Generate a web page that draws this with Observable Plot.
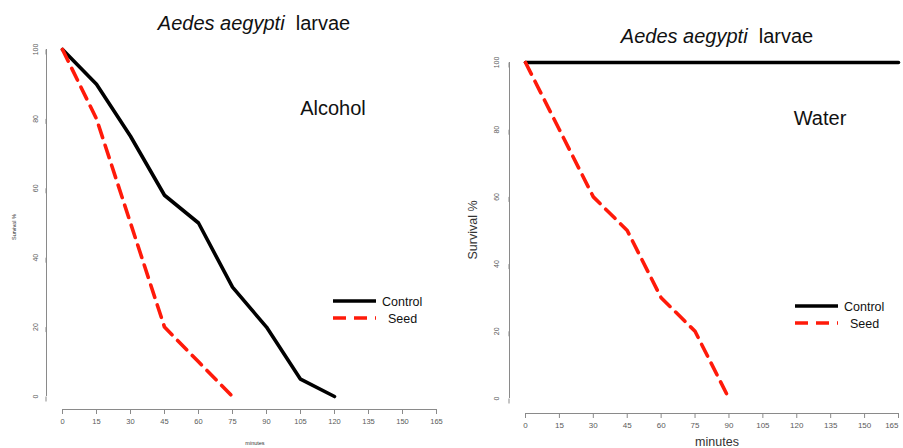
<!DOCTYPE html>
<html>
<head>
<meta charset="utf-8">
<script src="https://cdn.jsdelivr.net/npm/d3@7"></script>
<script src="https://cdn.jsdelivr.net/npm/@observablehq/plot@0.6"></script>
<style>
  html, body { margin: 0; padding: 0; background: #fff; }
  #wrap { position: relative; width: 903px; height: 448px; overflow: hidden; background: #fff; font-family: "Liberation Sans", Arial, sans-serif; }
  #wrap svg { position: absolute; top: 0; overflow: visible; }
</style>
</head>
<body>
<div id="wrap"></div>
<script>
// ---- data ----
const xTicks = [0, 15, 30, 45, 60, 75, 90, 105, 120, 135, 150, 165];
const yTicks = [0, 20, 40, 60, 80, 100];

const alcoholControlMinutes = [0, 15, 30, 45, 60, 75, 90, 105, 120];
const alcoholControl = [100, 90, 75, 58, 50, 31.5, 20, 5, 0];
const alcoholSeedMinutes = [0, 15, 30, 45, 60, 75];
const alcoholSeed = [100, 80, 50, 20, 10, 0];

const waterControlMinutes = [0, 15, 30, 45, 60, 75, 90, 105, 120, 135, 150, 165];
const waterControl = [100, 100, 100, 100, 100, 100, 100, 100, 100, 100, 100, 100];
const waterSeedMinutes = [0, 15, 30, 45, 60, 75, 90];
const waterSeed = [100, 80, 60, 50, 30, 20, 0];

const titleItalic = "Aedes aegypti";
const titleRest = "larvae";
const seriesNames = ["Control", "Seed"];
const panelNames = ["Alcohol", "Water"];
const xLabel = "minutes";
const yLabel = "Survival %";

const toRows = (xs, ys) => xs.map((m, i) => ({minutes: m, survival: ys[i]}));

const RED = "#ff1a0a";
const AXIS = "#8a8a8a";
const TICKTXT = "#5a5a5a";

function panel(cfg) {
  const innerTicks = xTicks.slice(0, -1);
  const lastTick = xTicks.slice(-1);
  const p = Plot.plot({
    width: cfg.width,
    height: 448,
    marginLeft: cfg.axisX,
    marginRight: 0,
    marginTop: 0,
    marginBottom: 448 - cfg.axisY,
    style: {background: "transparent", fontFamily: "Liberation Sans, Arial, sans-serif"},
    x: {domain: [0, 165], range: cfg.xRange},
    y: {domain: [0, 100], range: cfg.yRange},
    marks: [
      // axis lines (R style, detached)
      Plot.ruleY([0], {x1: xTicks[0], x2: xTicks[xTicks.length - 1], dy: cfg.axisY - cfg.yRange[0], stroke: AXIS, strokeWidth: 1}),
      Plot.ruleX([0], {y1: yTicks[0], y2: yTicks[yTicks.length - 1], dx: cfg.axisX - cfg.xRange[0], stroke: AXIS, strokeWidth: 1}),
      Plot.axisX({ticks: innerTicks, tickSize: 5, tickPadding: 4, fontSize: cfg.xFont, stroke: AXIS, color: TICKTXT, label: null, tickFormat: d => String(d)}),
      Plot.axisX({ticks: lastTick, tickSize: 5, tickPadding: 4, fontSize: cfg.xFont, stroke: AXIS, color: TICKTXT, label: null, tickFormat: d => String(d), textAnchor: cfg.lastAnchor}),
      Plot.axisY({ticks: yTicks, tickSize: 5, tickPadding: cfg.yPad, fontSize: cfg.yFont, stroke: AXIS, color: TICKTXT, label: null,
                  rotate: -90, textAnchor: "middle", lineAnchor: "bottom", tickFormat: d => String(d)}),
      Plot.line(cfg.control, {x: "minutes", y: "survival", stroke: "#000", strokeWidth: 3.6, strokeLinejoin: "round"}),
      Plot.line(cfg.seed, {x: "minutes", y: "survival", stroke: RED, strokeWidth: 3.6, strokeDasharray: "13,8", strokeLinejoin: "round"})
    ]
  });
  p.style.left = cfg.left + "px";
  const svg = d3.select(p);
  // title
  const t = svg.append("text").attr("x", cfg.titleX).attr("y", cfg.titleY)
    .attr("text-anchor", "middle").attr("font-size", 20).attr("fill", "#111");
  t.append("tspan").attr("font-style", "italic").text(titleItalic);
  t.append("tspan").attr("xml:space", "preserve").text("\u00a0\u00a0" + titleRest);
  // panel label
  svg.append("text").attr("x", cfg.nameX).attr("y", cfg.nameY).attr("font-size", 20)
    .attr("text-anchor", "middle").attr("fill", "#111").text(cfg.name);
  // legend
  const L = cfg.legend;
  svg.append("line").attr("x1", L.x1).attr("x2", L.x2).attr("y1", L.y1).attr("y2", L.y1)
    .attr("stroke", "#000").attr("stroke-width", 3.6);
  svg.append("line").attr("x1", L.x1).attr("x2", L.x2).attr("y1", L.y2).attr("y2", L.y2)
    .attr("stroke", RED).attr("stroke-width", 3.6).attr("stroke-dasharray", "13,8");
  svg.append("text").attr("x", L.tx1).attr("y", L.y1 + 4.5).attr("text-anchor", "start")
    .attr("font-size", 12.5).attr("fill", "#111").text(seriesNames[0]);
  svg.append("text").attr("x", L.tx2).attr("y", L.y2 + 4.5).attr("text-anchor", "start")
    .attr("font-size", 12.5).attr("fill", "#111").text(seriesNames[1]);
  // axis titles
  svg.append("text").attr("x", cfg.xLabX).attr("y", cfg.xLabY).attr("text-anchor", "middle")
    .attr("font-size", cfg.labFont).attr("fill", "#333").text(xLabel);
  svg.append("text").attr("transform", `translate(${cfg.yLabX},${cfg.yLabY}) rotate(-90)`)
    .attr("text-anchor", "middle").attr("font-size", cfg.labFont).attr("fill", "#333").text(yLabel);
  document.getElementById("wrap").appendChild(p);
}

panel({
  left: 0, width: 450,
  axisX: 46, axisY: 409,
  xRange: [62, 436], yRange: [396, 49],
  xFont: 7.5, yFont: 7, yPad: 4, lastAnchor: "middle",
  control: toRows(alcoholControlMinutes, alcoholControl),
  seed: toRows(alcoholSeedMinutes, alcoholSeed),
  titleX: 254, titleY: 30,
  name: panelNames[0], nameX: 333, nameY: 115,
  legend: {x1: 333, x2: 376, y1: 301, y2: 318, tx1: 382, tx2: 388},
  xLabX: 255, xLabY: 445, yLabX: 16, yLabY: 227, labFont: 5.5
});

panel({
  left: 450, width: 453,
  axisX: 59, axisY: 413,
  xRange: [75, 448], yRange: [398, 62],
  xFont: 8, yFont: 7, yPad: 6, lastAnchor: "end",
  control: toRows(waterControlMinutes, waterControl),
  seed: toRows(waterSeedMinutes, waterSeed),
  titleX: 267, titleY: 43,
  name: panelNames[1], nameX: 370, nameY: 125,
  legend: {x1: 345, x2: 388, y1: 306, y2: 323, tx1: 394, tx2: 400},
  xLabX: 267, xLabY: 446, yLabX: 27, yLabY: 230, labFont: 12.5
});
</script>
</body>
</html>
